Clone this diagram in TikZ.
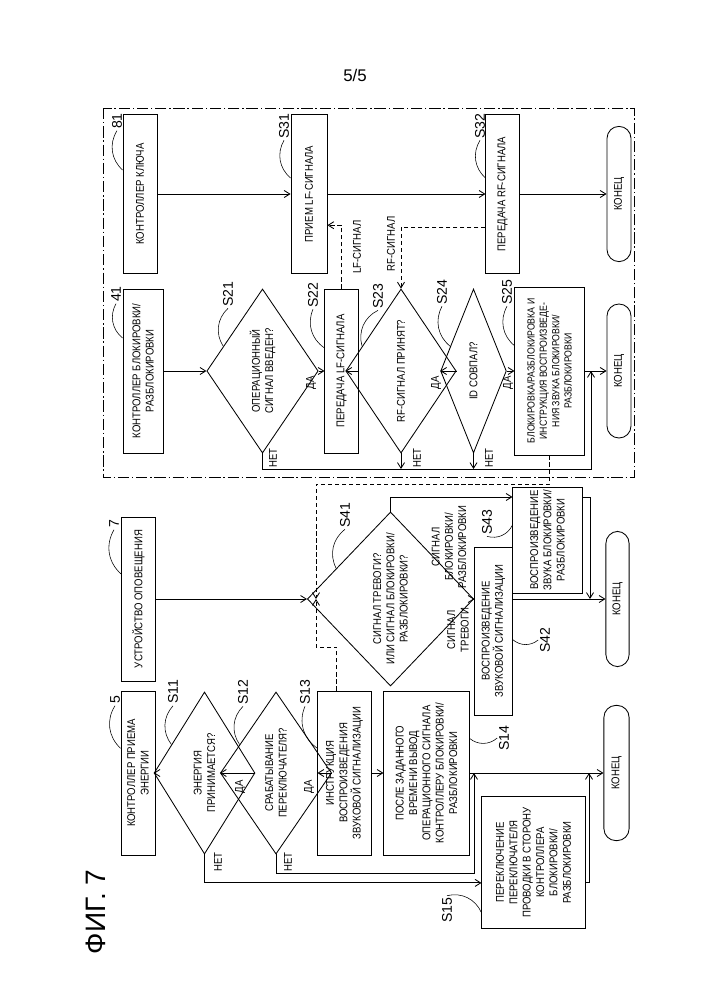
\documentclass[tikz,border=0pt]{standalone}
\usepackage{fontspec}
\setmainfont{Liberation Sans}
\newfontfamily\narrowfont{Liberation Sans}[FakeStretch=0.85]
\usetikzlibrary{shapes.geometric, arrows.meta, calc}

\begin{document}
\begin{tikzpicture}[
    x=0.025cm, y=-0.025cm,
    >={Straight Barb[length=4pt,width=5pt]},
    line width=0.6pt,
    txt/.style={rotate=90, align=center, font=\narrowfont\fontsize{8}{9.5}\selectfont},
    sz/.style 2 args={minimum width=#1cm, minimum height=#2cm},
    box/.style={txt, draw, inner sep=1pt},
    dec/.style={txt, draw, shape=diamond, inner sep=0pt},
    term/.style={txt, draw, rounded corners=0.3cm, inner sep=1pt},
    steplbl/.style={rotate=90, font=\fontsize{10}{12}\selectfont, inner sep=1pt},
    yn/.style={txt, inner sep=1pt},
    sig/.style={dashed, dash pattern=on 3pt off 2pt},
    squig/.style={line width=0.4pt}
  ]
    \path[use as bounding box] (0,0) rectangle (707,1000);

    \node[font=\fontsize{12}{14}\selectfont] (page) at (355,75) {5/5};
    \node[rotate=90, font=\fontsize{20}{24}\selectfont] (fig) at (96,912) {ФИГ. 7};

    % dash-dot frame
    \draw[line width=0.5pt, dash pattern=on 8pt off 2pt on 1pt off 2pt] (103,108) rectangle (634,477);

    % key controller
    \node[box,sz={3.98}{0.85}] (h81) at (140,194) {КОНТРОЛЛЕР КЛЮЧА};
    \node[box,sz={3.98}{0.9}] (S31) at (309,194) {ПРИЕМ LF-СИГНАЛА};
    \node[box,sz={3.98}{0.83}] (S32) at (502.5,194) {ПЕРЕДАЧА RF-СИГНАЛА};
    \node[term,sz={3.38}{0.6}] (E81) at (619,194) {КОНЕЦ};

    % lock/unlock controller
    \node[box,sz={4.1}{1.0}] (h41) at (143,371) {КОНТРОЛЛЕР БЛОКИРОВКИ/\\РАЗБЛОКИРОВКИ};
    \node[dec,sz={4.1}{1.88}] (S21) at (262.5,371) {ОПЕРАЦИОННЫЙ\\СИГНАЛ ВВЕДЕН?};
    \node[box,sz={4.1}{0.83}] (S22) at (341.5,371) {ПЕРЕДАЧА LF-СИГНАЛА};
    \node[dec,sz={4.1}{1.4}] (S23) at (401,371) {RF-СИГНАЛ ПРИНЯТ?};
    \node[dec,sz={4.1}{1.43}] (S24) at (473.5,371) {ID СОВПАЛ?};
    \node[box,sz={4.2}{1.73},font=\narrowfont\fontsize{7.3}{8.8}\selectfont] (S25) at (549.5,371)
      {БЛОКИРОВКА/РАЗБЛОКИРОВКА И\\ИНСТРУКЦИЯ ВОСПРОИЗВЕДЕ-\\НИЯ ЗВУКА БЛОКИРОВКИ/\\РАЗБЛОКИРОВКИ};
    \node[term,sz={3.35}{0.6}] (E41) at (619,371) {КОНЕЦ};

    % notification device
    \node[box,sz={4.1}{0.83}] (h7) at (138.5,599) {УСТРОЙСТВО ОПОВЕЩЕНИЯ};
    \node[dec,sz={4.35}{2.78}] (S41) at (390.5,599) {СИГНАЛ ТРЕВОГИ?\\ИЛИ СИГНАЛ БЛОКИРОВКИ/\\РАЗБЛОКИРОВКИ?};
    \node[box,sz={4.2}{0.93}] (S42) at (493.5,631) {ВОСПРОИЗВЕДЕНИЕ\\ЗВУКОВОЙ СИГНАЛИЗАЦИИ};
    \node[box,sz={2.65}{1.73}] (S43) at (547.5,540) {ВОСПРОИЗВЕДЕНИЕ\\ЗВУКА БЛОКИРОВКИ/\\РАЗБЛОКИРОВКИ};
    \node[term,sz={3.38}{0.58}] (E7) at (617.5,599) {КОНЕЦ};

    % power receiving controller
    \node[box,sz={4.1}{0.85}] (h5) at (138,773) {КОНТРОЛЛЕР ПРИЕМА\\ЭНЕРГИИ};
    \node[dec,sz={4.05}{1.38}] (S11) at (204.5,773) {ЭНЕРГИЯ\\ПРИНИМАЕТСЯ?};
    \node[dec,sz={4.05}{1.4}] (S12) at (276,773) {СРАБАТЫВАНИЕ\\ПЕРЕКЛЮЧАТЕЛЯ?};
    \node[box,sz={4.1}{1.33}] (S13) at (344.5,773) {ИНСТРУКЦИЯ\\ВОСПРОИЗВЕДЕНИЯ\\ЗВУКОВОЙ СИГНАЛИЗАЦИИ};
    \node[box,sz={4.1}{2.13}] (S14) at (426.5,773)
      {ПОСЛЕ ЗАДАННОГО\\ВРЕМЕНИ ВЫВОД\\ОПЕРАЦИОННОГО СИГНАЛА\\КОНТРОЛЛЕРУ БЛОКИРОВКИ/\\РАЗБЛОКИРОВКИ};
    \node[box,sz={3.28}{2.58}] (S15) at (533.5,862.5)
      {ПЕРЕКЛЮЧЕНИЕ\\ПЕРЕКЛЮЧАТЕЛЯ\\ПРОВОДКИ В СТОРОНУ\\КОНТРОЛЛЕРА\\БЛОКИРОВКИ/\\РАЗБЛОКИРОВКИ};
    \node[term,sz={3.38}{0.63}] (E5) at (616.5,773) {КОНЕЦ};

    % reference numerals and step labels
    \node[steplbl] (l81) at (117,121) {81};
    \node[steplbl] (l41) at (116,294) {41};
    \node[steplbl] (l7) at (114,524) {7};
    \node[steplbl] (l5) at (115,700) {5};
    \node[steplbl] (lS31) at (284,126) {S31};
    \node[steplbl] (lS32) at (480,126) {S32};
    \node[steplbl] (lS21) at (228,294) {S21};
    \node[steplbl] (lS22) at (313,295) {S22};
    \node[steplbl] (lS23) at (378,296) {S23};
    \node[steplbl] (lS24) at (442,292) {S24};
    \node[steplbl] (lS25) at (507,292) {S25};
    \node[steplbl] (lS41) at (345,515) {S41};
    \node[steplbl] (lS42) at (545,640) {S42};
    \node[steplbl] (lS43) at (487,522) {S43};
    \node[steplbl] (lS11) at (173,692) {S11};
    \node[steplbl] (lS12) at (243,692) {S12};
    \node[steplbl] (lS13) at (305,692) {S13};
    \node[steplbl] (lS14) at (504,738) {S14};
    \node[steplbl] (lS15) at (447,910) {S15};

    \draw[squig] (l81.west) to[bend right=40] ($(h81.north east)!0.35!(h81.north west)$);
    \draw[squig] (l41.west) to[bend right=40] ($(h41.north east)!0.3!(h41.north west)$);
    \draw[squig] (l7.west) to[bend right=40] ($(h7.north east)!0.35!(h7.north west)$);
    \draw[squig] (l5.west) to[bend right=40] ($(h5.north east)!0.35!(h5.north west)$);
    \draw[squig] (lS31.west) to[bend right=40] ($(S31.north east)!0.4!(S31.north west)$);
    \draw[squig] (lS32.west) to[bend right=40] ($(S32.north east)!0.4!(S32.north west)$);
    \draw[squig] (lS21.west) to[bend right=40] ($(S21.north)!0.3!(S21.east)$);
    \draw[squig] (lS22.west) to[bend right=40] ($(S22.north east)!0.36!(S22.north west)$);
    \draw[squig] (lS23.west) to[bend right=40] ($(S23.north)!0.3!(S23.east)$);
    \draw[squig] (lS24.west) to[bend right=40] ($(S24.north)!0.3!(S24.east)$);
    \draw[squig] (lS25.west) to[bend right=40] ($(S25.north east)!0.35!(S25.north west)$);
    \draw[squig] (lS41.west) to[bend right=40] ($(S41.north)!0.35!(S41.east)$);
    \draw[squig] (lS43.west) to[bend right=40] ($(S43.north east)!0.36!(S43.north west)$);
    \draw[squig] (lS11.west) to[bend right=40] ($(S11.north)!0.35!(S11.east)$);
    \draw[squig] (lS12.west) to[bend right=40] ($(S12.north)!0.35!(S12.east)$);
    \draw[squig] (lS13.west) to[bend right=40] ($(S13.north east)!0.35!(S13.north west)$);
    \draw[squig] (lS42.north) to[bend left=40] ($(S42.south east)!0.55!(S42.south west)$);
    \draw[squig] (lS14.north) to[bend left=40] ($(S14.south east)!0.29!(S14.south west)$);
    \draw[squig] (lS15.east) to[bend left=40] ($(S15.north east)!0.88!(S15.north west)$);

    % yes / no labels
    \node[yn] (y21) at (311,383) {ДА};
    \node[yn] (y23) at (436,383) {ДА};
    \node[yn] (y24) at (508,383) {ДА};
    \node[yn] (y11) at (240,787) {ДА};
    \node[yn] (y12) at (309,787) {ДА};
    \node[yn] (n21) at (273,458) {НЕТ};
    \node[yn] (n23) at (417,458) {НЕТ};
    \node[yn] (n24) at (489,458) {НЕТ};
    \node[yn] (n11) at (218,862) {НЕТ};
    \node[yn] (n12) at (288,862) {НЕТ};
    \node[yn] (alarm) at (458,630) {СИГНАЛ\\ТРЕВОГИ};
    \node[yn] (lock) at (449,547) {СИГНАЛ\\БЛОКИРОВКИ/\\РАЗБЛОКИРОВКИ};
    \node[yn] (lf) at (357,247) {LF-СИГНАЛ};
    \node[yn] (rf) at (391,244) {RF-СИГНАЛ};

    % key controller flow
    \draw[->] (h81.south) -- (S31.north);
    \draw[->] (S31.south) -- (S32.north);
    \draw[->] (S32.south) -- (E81.north);

    % lock/unlock controller flow
    \coordinate (r41) at (591,469);
    \draw[->] (h41.south) -- (S21.north);
    \draw[->] (S21.south) -- (S22.north);
    \draw[->] (S22.south) -- (S23.north);
    \draw[->] (S23.south) -- (S24.north);
    \draw[->] (S24.south) -- (S25.north);
    \draw[->] (S25.south) -- (E41.north);
    \draw[->] (S21.west) |- (r41) -- (r41 |- E41.north);
    \draw[->] (S23.west) -- (S23.west |- r41);
    \draw[->] (S24.west) -- (S24.west |- r41);

    % wireless signals
    \draw[sig,->] (S22.east) |- ([yshift=-0.78cm]S31.south);
    \draw[sig,->] ([yshift=-0.825cm]S32.north) -| (S23.east);

    % notification device flow
    \coordinate (j7) at (590,599);
    \coordinate (d7) at (316,599);
    \coordinate (d13) at (316,647);
    \coordinate (d25) at (316,484);
    \draw[->] (h7.south) -- (S41.north);
    \draw[->] (S41.south) -- (S41.south -| S42.north);
    \draw[->] (S41.east) |- ([yshift=1.075cm]S43.north);
    \draw[->] (S41.south -| S42.south) -- (S41.south -| E7.north);
    \draw[->] ([yshift=1.075cm]S43.south) -| (j7);
    \draw[sig,->] ([xshift=-0.19cm]S13.east) |- (d13) -- (d7);
    \draw[sig,->] (S25.west) |- (d25) -- (d7);

    % power receiving controller flow
    \coordinate (r5) at (474,873);
    \coordinate (j5) at (589,773);
    \draw[->] (h5.south) -- (S11.north);
    \draw[->] (S11.south) -- (S12.north);
    \draw[->] (S12.south) -- (S13.north);
    \draw[->] (S13.south) -- (S14.north);
    \draw[->] (S14.south) -- (E5.north);
    \draw[->] (S11.west) |- ([yshift=-0.51cm]S15.north);
    \draw[->] (S12.west) |- (r5) -- (r5 |- S14.south);
    \draw[->] ([yshift=-0.51cm]S15.south) -| (j5);
\end{tikzpicture}
\end{document}
